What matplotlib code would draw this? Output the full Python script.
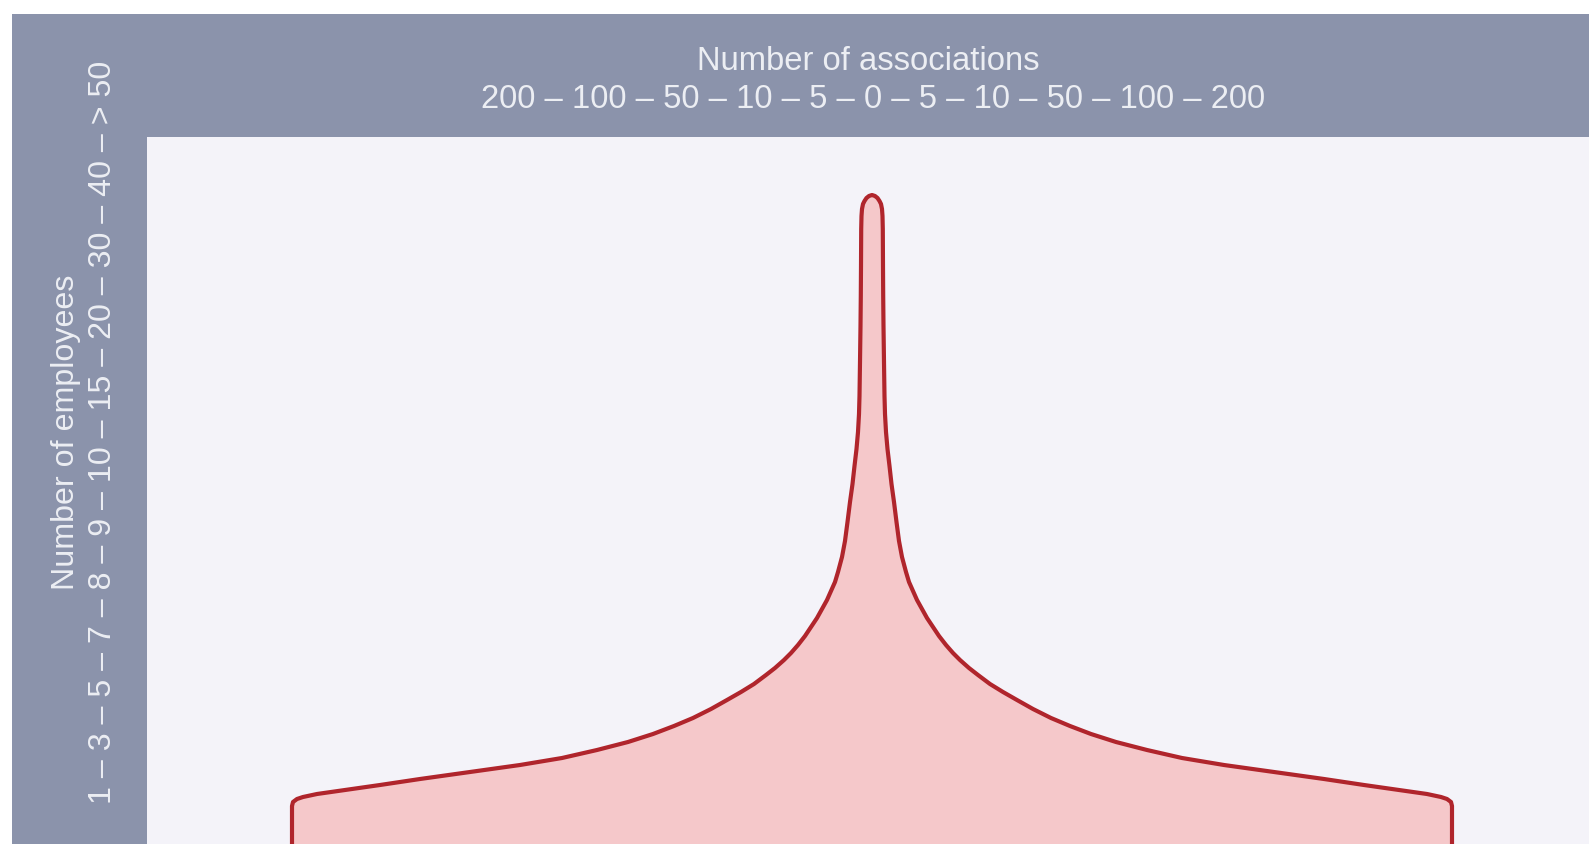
import matplotlib
matplotlib.use("Agg")
import matplotlib.pyplot as plt
import numpy as np

# ---- data ----
association_labels = ["200", "100", "50", "10", "5", "0", "5", "10", "50", "100", "200"]
employee_labels = ["1", "3", "5", "7", "8", "9", "10", "15", "20", "30", "40", "> 50"]
x_title = "Number of associations"
y_title = "Number of employees"

# outline of the symmetric shape: height above panel bottom and half-width
profile_height = [0, 38, 42, 45, 47, 50, 54, 59, 65, 72, 79, 86, 94, 102, 110, 118,
                  126, 135, 144, 152, 160, 169, 176, 184, 191, 199, 208, 217, 226,
                  235, 244, 253, 262, 272, 287, 303, 322, 342, 360, 378, 395, 412,
                  430, 448, 482, 518, 548, 578, 615, 628, 635, 640, 643, 646, 648, 649]
profile_halfwidth = [580, 580, 579, 575, 569, 555, 527, 492, 452, 402, 352, 310, 275,
                     244, 219, 198, 179, 161, 145, 131, 118, 106, 97, 88, 81, 74, 67,
                     61, 55, 50, 45, 41, 37, 34, 30, 27, 24.5, 22, 19.5, 17.5, 15.5,
                     14, 13, 12.5, 12, 11.5, 11.2, 11, 10.8, 10.5, 10, 9, 7.5, 5.5, 3, 0]

# ---- style ----
W, H = 1589, 844
band_color = "#8b93ab"
panel_color = "#f4f3f9"
fill_color = "#f5c8ca"
line_color = "#b0252c"
text_color = "#eceef3"
plt.rcParams["font.family"] = ["Liberation Sans", "DejaVu Sans"]

fig = plt.figure(figsize=(W / 100, H / 100), dpi=100)
fig.patch.set_facecolor("white")

# grey frame (top and left band)
frame = fig.add_axes([12 / W, 0, 1 - 12 / W, (H - 14) / H])
frame.set_facecolor(band_color)
frame.set_xticks([]); frame.set_yticks([])
for s in frame.spines.values():
    s.set_visible(False)

# panel
px0, py_top = 147, 137
ax = fig.add_axes([px0 / W, 0, 1 - px0 / W, (H - py_top) / H])
ax.set_facecolor(panel_color)
ax.set_xticks([]); ax.set_yticks([])
for s in ax.spines.values():
    s.set_visible(False)
cx = 872 - px0
ax.set_xlim(-cx, (W - px0) - cx)
ax.set_ylim(0, H - py_top)

h = np.array(profile_height, dtype=float)
hw = np.array(profile_halfwidth, dtype=float)
ax.fill_betweenx(h, -hw, hw, color=fill_color, lw=0)
xs = np.concatenate([-hw, hw[::-1]])
ys = np.concatenate([h, h[::-1]])
ax.plot(xs, ys, color=line_color, lw=3, solid_joinstyle="round", solid_capstyle="butt")

# titles
fs = 23.6
fig.text(868 / W, 1 - 61 / H, x_title, ha="center", va="center", fontsize=fs, color=text_color)
fig.text(873 / W, 1 - 99 / H, " \u2013 ".join(association_labels), ha="center", va="center",
         fontsize=fs, color=text_color)
fig.text(66 / W, 1 - 432 / H, y_title, ha="center", va="center", rotation=90,
         fontsize=23.2, color=text_color)
fig.text(103 / W, 1 - 432 / H, " \u2013 ".join(employee_labels), ha="center", va="center",
         rotation=90, fontsize=23.1, color=text_color)

fig.savefig("out.png", dpi=100, facecolor=fig.get_facecolor())
